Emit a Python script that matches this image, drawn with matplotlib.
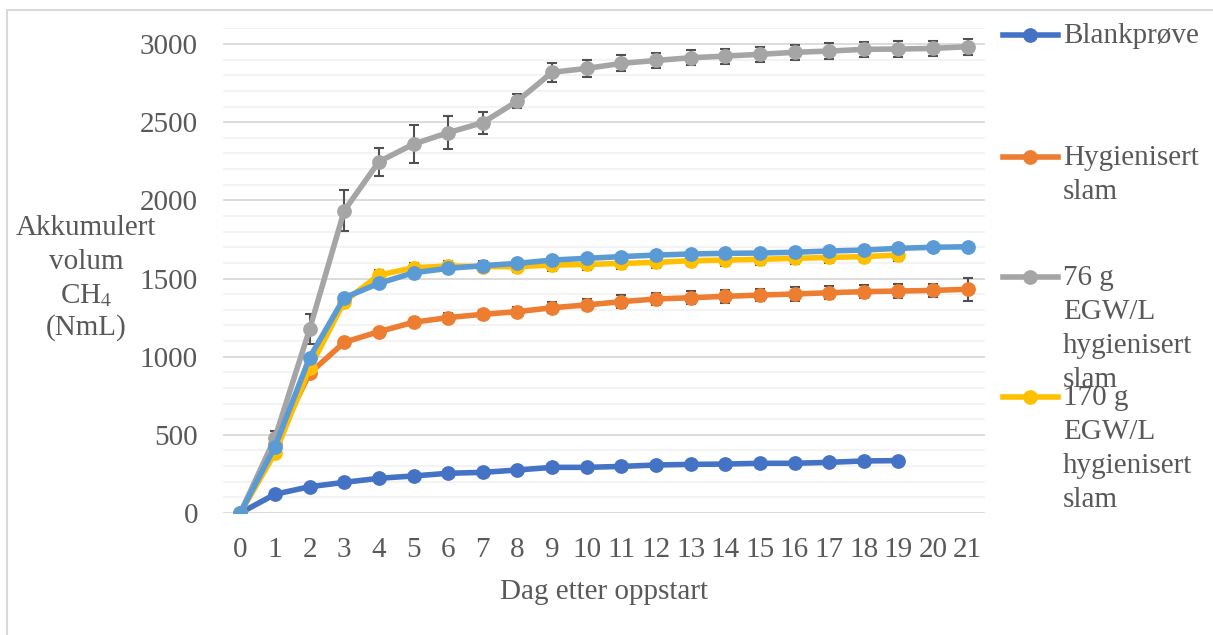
import numpy as np
import matplotlib
matplotlib.use('Agg')
import matplotlib.pyplot as plt
from matplotlib.lines import Line2D
from matplotlib.patches import Rectangle
from matplotlib.ticker import MultipleLocator

# dager etter oppstart
days = list(range(22))
days_short = list(range(20))

blank = [0, 120, 168, 196, 222, 237, 254, 260, 275, 292, 292, 298, 307, 311,
         313, 318, 318, 324, 333, 335]
hyg = [0, 440, 893, 1092, 1160, 1220, 1250, 1271, 1288, 1313, 1331, 1352, 1369,
       1377, 1386, 1394, 1401, 1409, 1416, 1420, 1424, 1431]
hyg_err = [0, 20, 25, 20, 20, 25, 30, 30, 30, 35, 35, 40, 40, 40, 40, 40, 42,
           42, 42, 42, 42, 72]
egw76 = [0, 480, 1175, 1934, 2247, 2360, 2433, 2497, 2635, 2819, 2844, 2876,
         2895, 2912, 2923, 2934, 2947, 2955, 2966, 2968, 2972, 2983]
egw76_err = [0, 45, 96, 131, 90, 119, 104, 71, 46, 59, 55, 51, 48, 48, 48, 48,
             48, 50, 50, 50, 50, 52]
egw170 = [0, 382, 925, 1352, 1522, 1569, 1580, 1576, 1576, 1586, 1590, 1597,
          1603, 1614, 1618, 1623, 1629, 1635, 1640, 1650]
egw170_err = [0, 20, 30, 30, 32, 32, 34, 34, 34, 35, 35, 36, 36, 36, 36, 36,
              36, 36, 36, 36]
egw240 = [0, 424, 994, 1377, 1469, 1537, 1565, 1582, 1597, 1618, 1629, 1640,
          1650, 1657, 1661, 1663, 1668, 1676, 1682, 1693, 1700, 1703]

labels = ['Blankprøve', 'Hygienisert\nslam', '76 g\nEGW/L\nhygienisert\nslam',
          '170 g\nEGW/L\nhygienisert\nslam']
ylab_lines = ['Akkumulert', 'volum', 'CH$_4$', '(NmL)']
colors = ['#4472C4', '#ED7D31', '#A5A5A5', '#FFC000', '#5B9BD5']

plt.rcParams['font.family'] = ['Liberation Serif', 'DejaVu Serif']
plt.rcParams['mathtext.fontset'] = 'stix'
txt = '#595959'
fs = 21

fig = plt.figure(figsize=(12.13, 6.35), dpi=100)
ax = fig.add_axes([223 / 1213, 1 - 513 / 635, 762 / 1213, (513 - 28.4) / 635])

lw = 4.0
ms = 9.6
ekw = dict(ecolor='#505050', elinewidth=1.5, capsize=3.6, capthick=1.5)
ax.plot(days_short, blank, '-o', color=colors[0], lw=lw, ms=ms, zorder=3)
ax.errorbar(days, hyg, yerr=hyg_err, fmt='-o', color=colors[1], lw=lw, ms=ms,
            zorder=4, **ekw)
ax.errorbar(days, egw76, yerr=egw76_err, fmt='-o', color=colors[2], lw=lw,
            ms=ms, zorder=5, **ekw)
ax.errorbar(days_short, egw170, yerr=egw170_err, fmt='-o', color=colors[3],
            lw=lw, ms=ms, zorder=6, **ekw)
ax.plot(days, egw240, '-o', color=colors[4], lw=lw, ms=ms, zorder=7)

ax.set_xlim(-0.5, 21.5)
ax.set_ylim(0, 3100)
ax.set_xticks(days)
ax.yaxis.set_major_locator(MultipleLocator(500))
ax.yaxis.set_minor_locator(MultipleLocator(100))
ax.grid(which='minor', axis='y', color='#F2F2F2', lw=1.3, zorder=0)
ax.grid(which='major', axis='y', color='#D9D9D9', lw=1.3, zorder=0)
ax.set_axisbelow(True)
for s in ax.spines.values():
    s.set_visible(False)
ax.tick_params(axis='both', which='both', length=0, labelsize=fs,
               labelcolor=txt)
ax.tick_params(axis='y', pad=18)
ax.tick_params(axis='x', pad=17)
ax.set_xlabel('Dag etter oppstart', fontsize=fs, color=txt, labelpad=12)

# y-aksetittel, en linje om gangen
for line, y in zip(ylab_lines, [228, 262, 296, 328]):
    fig.text(86 / 1213, 1 - y / 635, line, ha='center', va='center',
             fontsize=fs, color=txt)

# legende
leg_y = [35, 157, 277, 397]
for lab, c, y in zip(labels, colors, leg_y):
    yf = 1 - y / 635
    fig.add_artist(Line2D([1003 / 1213, 1058 / 1213], [yf, yf], color=c,
                          lw=lw, transform=fig.transFigure))
    fig.add_artist(Line2D([1030 / 1213], [yf], color=c, marker='o', ms=ms,
                          lw=0, transform=fig.transFigure))
    fig.text(1063 / 1213, yf + 12 / 635, lab, ha='left', va='top', fontsize=fs,
             color=txt, linespacing=1.4)

fig.add_artist(Rectangle((7 / 1213, -0.1), 1.2, 1 - 10 / 635 + 0.1,
                         transform=fig.transFigure, fill=False,
                         edgecolor='#D9D9D9', lw=1.5))

fig.savefig('out.png', dpi=100)
